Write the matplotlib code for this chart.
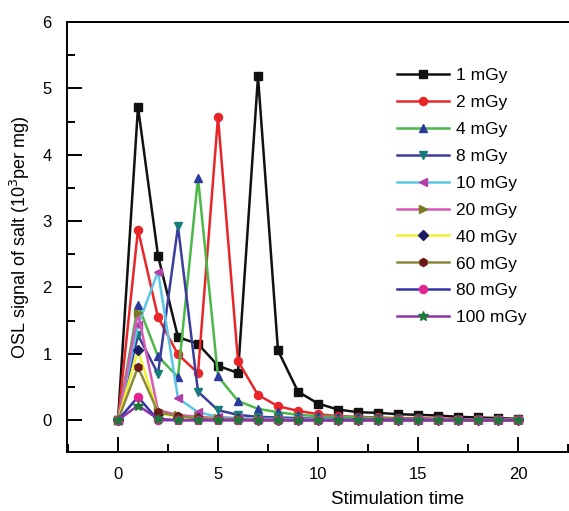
import matplotlib
matplotlib.use("Agg")
import matplotlib.pyplot as plt
from matplotlib.ticker import MultipleLocator

time = list(range(21))

doses = ["1 mGy", "2 mGy", "4 mGy", "8 mGy", "10 mGy",
         "20 mGy", "40 mGy", "60 mGy", "80 mGy", "100 mGy"]

osl_1 = [0, 4.72, 2.48, 1.25, 1.15, 0.82, 0.71, 5.18, 1.05, 0.43, 0.25,
         0.16, 0.12, 0.11, 0.09, 0.08, 0.07, 0.05, 0.04, 0.03, 0.02]
osl_2 = [0, 2.87, 1.55, 0.99, 0.71, 4.57, 0.89, 0.38, 0.21, 0.14, 0.09,
         0.06, 0.05, 0.04, 0.03, 0.03, 0.02, 0.02, 0.01, 0.01, 0.01]
osl_4 = [0, 1.74, 0.96, 0.65, 3.65, 0.66, 0.29, 0.17, 0.12, 0.08, 0.06,
         0.05, 0.04, 0.03, 0.02, 0.02, 0.01, 0.01, 0.01, 0.01, 0.01]
osl_8 = [0, 1.28, 0.70, 2.92, 0.43, 0.15, 0.08, 0.05, 0.04, 0.03, 0.02,
         0.02, 0.01, 0.01, 0.01, 0.01, 0.0, 0.0, 0.0, 0.0, 0.0]
osl_10 = [0, 1.43, 2.24, 0.33, 0.12, 0.05, 0.03, 0.02, 0.02, 0.01, 0.01,
          0.01, 0.0, 0.0, 0.0, 0.0, 0.0, 0.0, 0.0, 0.0, 0.0]
osl_20 = [0, 1.62, 0.15, 0.08, 0.05, 0.03, 0.02, 0.01, 0.01, 0.0, 0.0,
          0.0, 0.0, 0.0, 0.0, 0.0, 0.0, 0.0, 0.0, 0.0, 0.0]
osl_40 = [0, 1.05, 0.10, 0.05, 0.03, 0.02, 0.01, 0.0, 0.0, 0.0, 0.0,
          0.0, 0.0, 0.0, 0.0, 0.0, 0.0, 0.0, 0.0, 0.0, 0.0]
osl_60 = [0, 0.80, 0.12, 0.06, 0.03, 0.02, 0.01, 0.0, 0.0, 0.0, 0.0,
          0.0, 0.0, 0.0, 0.0, 0.0, 0.0, 0.0, 0.0, 0.0, 0.0]
osl_80 = [0, 0.35, 0.0, 0.0, 0.0, 0.0, 0.0, 0.0, 0.0, 0.0, 0.0,
          0.0, 0.0, 0.0, 0.0, 0.0, 0.0, 0.0, 0.0, 0.0, 0.0]
osl_100 = [0, 0.22, 0.02, 0.0, 0.0, 0.0, 0.0, 0.0, 0.0, 0.0, 0.0,
           0.0, 0.0, 0.0, 0.0, 0.0, 0.0, 0.0, 0.0, 0.0, 0.0]

series = [osl_1, osl_2, osl_4, osl_8, osl_10,
          osl_20, osl_40, osl_60, osl_80, osl_100]

# line colour, marker, marker colour (line and marker differ in the original)
styles = [
    ("#111111", "s", "#111111"),
    ("#e8262a", "o", "#e8262a"),
    ("#4cb848", "^", "#2b3a9c"),
    ("#3c3c9c", "v", "#167b7b"),
    ("#5cc6e6", "<", "#b040a8"),
    ("#d65ab4", ">", "#7a7a22"),
    ("#f2ee30", "D", "#1c1c60"),
    ("#8a8a3c", "h", "#6a1a1a"),
    ("#3434a4", "o", "#e22490"),
    ("#8a34a8", "*", "#1a7a3a"),
]

plt.rcParams["font.family"] = ["Liberation Sans", "DejaVu Sans"]

fig = plt.figure(figsize=(5.69, 5.11), dpi=100)
# frame runs past the right edge of the picture, as in the original
ax = fig.add_axes([67 / 569, 1 - 452 / 511, 513 / 569, 430 / 511])

for name, vals, (lc, mk, mc) in zip(doses, series, styles):
    ms = 7.5 if mk == "*" else 5.8
    if mk == "D":
        ms = 5
    ax.plot(time, vals, color=lc, lw=1.8, marker=mk, ms=ms,
            markerfacecolor=mc, markeredgecolor=mc, label=name)

ax.set_xlim(-2.55, 23.1)
ax.set_ylim(-0.48, 6)
ax.xaxis.set_major_locator(MultipleLocator(5))
ax.xaxis.set_minor_locator(MultipleLocator(2.5))
ax.yaxis.set_major_locator(MultipleLocator(1))
ax.yaxis.set_minor_locator(MultipleLocator(0.5))
ax.tick_params(which="major", direction="in", length=11, width=1.4,
               labelsize=12, pad=11)
ax.tick_params(which="minor", direction="in", length=6, width=1.4)
for sp in ax.spines.values():
    sp.set_linewidth(1.4)

ax.set_ylabel("OSL signal of salt (10$^3$per mg)", fontsize=13)
ax.set_xlabel("Stimulation time", fontsize=13.5)
ax.xaxis.set_label_coords((398 - 67) / 513, -0.09)
ax.yaxis.set_label_coords(-0.068, 0.5)

ax.legend(loc="upper left", bbox_to_anchor=(0.63, 0.91), frameon=False,
          fontsize=12.5, handlelength=3.0, labelspacing=0.68,
          handletextpad=0.4, borderaxespad=0)

fig.savefig("out.png", dpi=100)
